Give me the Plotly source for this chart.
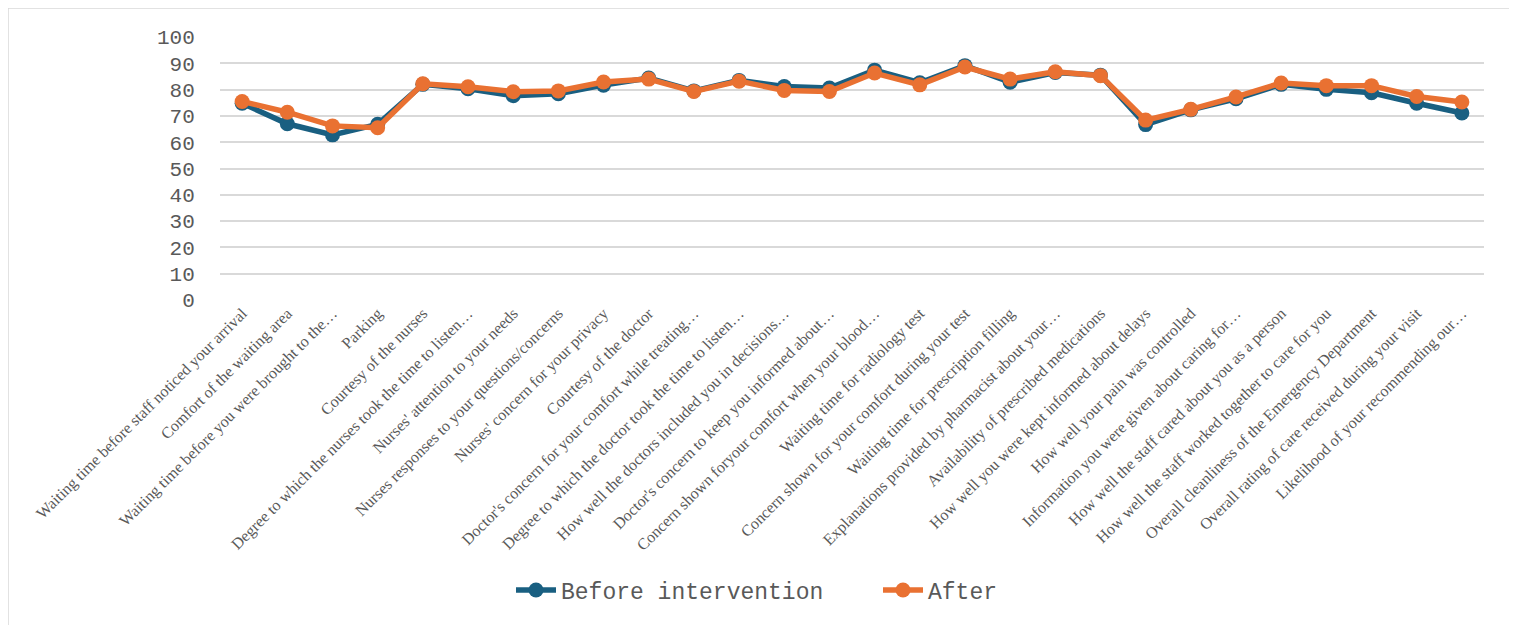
import plotly.graph_objects as go

categories = [
    "Waiting time before staff noticed your arrival",
    "Comfort of the waiting area",
    "Waiting time before you were brought to the…",
    "Parking",
    "Courtesy of the nurses",
    "Degree to which the nurses took the time to listen…",
    "Nurses' attention to your needs",
    "Nurses responses to your questions/concerns",
    "Nurses' concern for your privacy",
    "Courtesy of the doctor",
    "Doctor's concern for your comfort while treating…",
    "Degree to which the doctor took the time to listen…",
    "How well the doctors included you in decisions…",
    "Doctor's concern to keep you informed about…",
    "Concern shown foryour comfort when your blood…",
    "Waiting time for radiology test",
    "Concern shown for your comfort during your test",
    "Waiting time for prescription filling",
    "Explanations provided by pharmacist about your…",
    "Availability of prescribed medications",
    "How well you were kept informed about delays",
    "How well your pain was controlled",
    "Information you were given about caring for…",
    "How well the staff cared about you as a person",
    "How well the staff worked together to care for you",
    "Overall cleanliness of the Emergency Department",
    "Overall rating of care received during your visit",
    "Likelihood of your recommending our…",
]

before = [74.8, 67.0, 62.8, 66.8, 82.0, 80.3, 77.7, 78.4, 81.7, 84.4,
          79.5, 83.5, 81.2, 80.6, 87.4, 82.6, 89.1, 82.8, 86.5, 85.5,
          66.7, 72.3, 76.5, 82.0, 80.1, 78.8, 74.8, 71.1]
after = [75.5, 71.4, 66.2, 65.5, 82.2, 81.1, 79.2, 79.5, 82.9, 84.0,
         79.3, 83.2, 79.7, 79.3, 86.3, 81.8, 88.6, 84.0, 86.8, 85.3,
         68.4, 72.5, 77.2, 82.5, 81.5, 81.5, 77.4, 75.3]

series_names = ["Before intervention", "After"]
yticks = list(range(0, 101, 10))

BLUE = "#195f81"
ORANGE = "#e97132"

W, H = 1517, 625
L, R, T, B = 212, 41, 29, 333
PW = W - L - R
PH = H - T - B

fig = go.Figure()
for name, vals, col in [(series_names[0], before, BLUE), (series_names[1], after, ORANGE)]:
    fig.add_trace(go.Scatter(
        x=categories, y=vals, name=name, mode="lines+markers",
        line=dict(color=col, width=5.5),
        marker=dict(color=col, size=15, line=dict(width=0)),
        cliponaxis=False,
    ))

fig.update_layout(
    width=W, height=H,
    margin=dict(l=L, r=R, t=T, b=B),
    paper_bgcolor="white", plot_bgcolor="white",
    showlegend=True,
    legend=dict(
        orientation="h", x=(503 - L) / PW, xanchor="left",
        y=(H - B - 582) / PH, yanchor="middle",
        font=dict(family="Liberation Mono", size=23, color="#595959"),
        entrywidth=312, entrywidthmode="pixels",
        itemwidth=40, tracegroupgap=0,
    ),
    xaxis=dict(
        type="category", range=[-0.49, 27.49],
        tickangle=-45, showgrid=False, zeroline=False, showline=False,
        tickfont=dict(family="Liberation Serif", size=16, color="#595959"),
        ticks="", automargin=False,
    ),
    yaxis=dict(
        range=[0, 100], tickvals=yticks, showgrid=True,
        gridcolor="#d9d9d9", gridwidth=1.5, zeroline=False, showline=False,
        tickfont=dict(family="Liberation Mono", size=21, color="#595959"),
        ticks="outside", ticklen=20, tickcolor="rgba(0,0,0,0)",
        automargin=False,
    ),
    shapes=[dict(
        type="rect", xref="paper", yref="paper",
        x0=(0 - L) / PW, x1=(1504 - L) / PW,
        y0=(H - B - 640) / PH,
        y1=(H - B - 0) / PH,
        line=dict(color="#d9d9d9", width=1.5), fillcolor="rgba(0,0,0,0)",
        layer="below",
    )],
)

fig.write_html("out.html")
